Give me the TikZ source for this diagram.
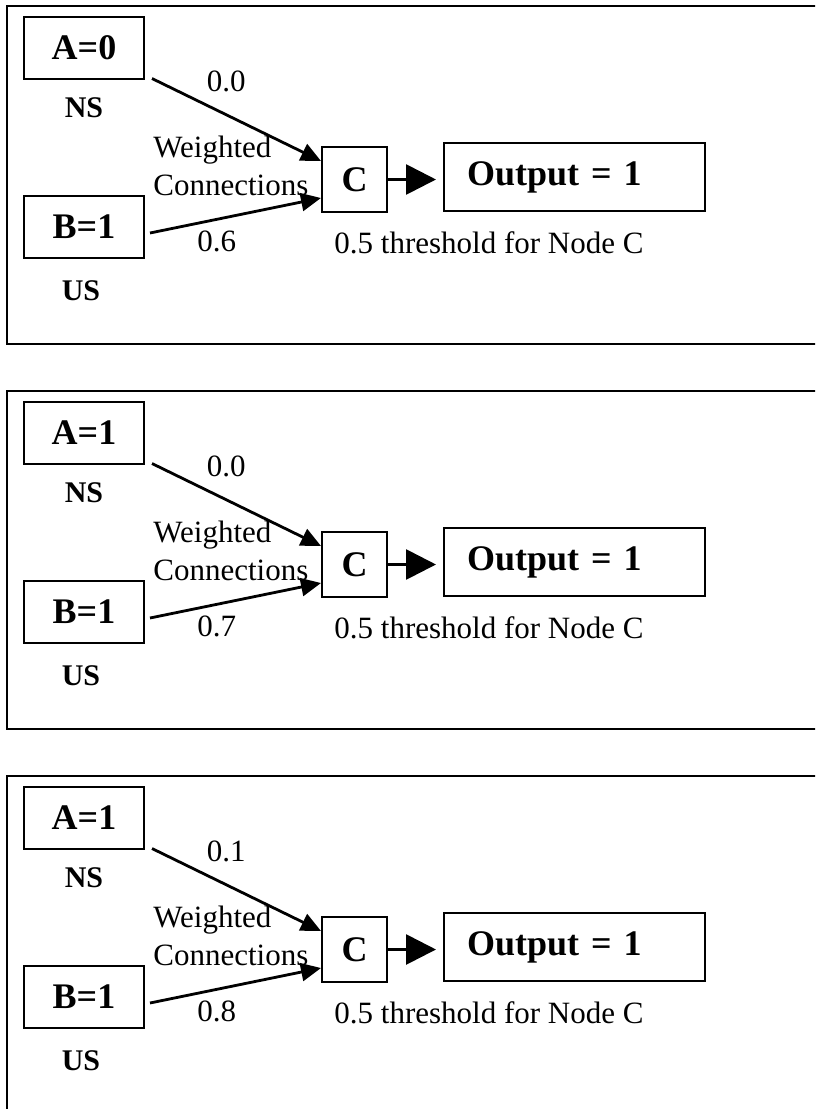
\documentclass[tikz,border=0pt]{standalone}
\usepackage{fontspec}
\setmainfont{Liberation Serif}
\usetikzlibrary{positioning, arrows.meta, calc}

\begin{document}
\begin{tikzpicture}[
    x=0.5pt, y=-0.5pt,
    % Styles
    unit/.style={ % A, B and C units
        rectangle,
        draw,
        line width=1pt,
        font=\fontsize{18}{21}\selectfont\bfseries
    },
    inbox/.style={ % stimulus units
        unit,
        minimum width=60pt,
        minimum height=31pt
    },
    cbox/.style={ % threshold unit
        unit,
        minimum width=32.5pt,
        minimum height=32.5pt
    },
    outbox/.style={ % output box, text to the left
        unit,
        minimum height=34pt,
        text width=107.5pt,
        inner xsep=11.5pt,
        align=left
    },
    stim/.style={ % NS / US tags
        inner sep=0pt,
        font=\fontsize{15}{18}\selectfont\bfseries
    },
    note/.style={
        inner sep=0pt,
        font=\fontsize{15.5}{19}\selectfont
    },
    weight/.style={ % weighted connection
        -{Triangle[length=10pt, width=9pt]},
        line width=1.4pt
    },
    fire/.style={ % C to output
        -{Triangle[length=15pt, width=15pt]},
        line width=1.4pt,
        shorten >=3.5pt
    },
    panel/.style={
        line width=1.2pt
    }
]
    \useasboundingbox (0,0) rectangle (815,1109);
    \clip (0,0) rectangle (815,1109);

    % One panel per training step
    \foreach \p/\a/\wa/\wb in {0/0/0.0/0.6, 1/1/0.0/0.7, 2/1/0.1/0.8} {
    \begin{scope}[shift={(0,\p*385)}]
        % Frame, open on the right
        \draw[panel] (7,6) rectangle (840,344);

        % Input units
        \node[inbox] (A\p) at (84,47.5) {A=\a};
        \node[inbox] (B\p) at (84,226.5) {B=1};
        \node[stim, below=9pt of A\p] (ns\p) {NS};
        \node[stim, below=11pt of B\p, xshift=-1.5pt] (us\p) {US};

        % Unit C and its output
        \node[cbox] (C\p) at (354.5,179.5) {C};
        \node[outbox] (out\p) at (574.5,177) {Output = 1};
        \node[note, below right=9pt and 6.5pt of C\p.south west] (thr\p) {0.5 threshold for Node C};

        % Weighted connections
        \draw[weight] ([shift={(3.5pt,0.5pt)}]A\p.south east) -- ([yshift=-7.5pt]C\p.north west)
            node[note, pos=0.44, above=10.5pt] (wa\p) {\wa};
        \draw[weight] ([shift={(2.5pt,-3.25pt)}]B\p.east) -- ([yshift=7.5pt]C\p.south west)
            node[note, pos=0.39, below=5pt] (wb\p) {\wb};
        \node[note, align=left, anchor=north west] (wc\p) at (153,136) {Weighted\\Connections};

        \draw[fire] (C\p.east) -- (C\p.east -| out\p.west);
    \end{scope}
    }
\end{tikzpicture}
\end{document}
